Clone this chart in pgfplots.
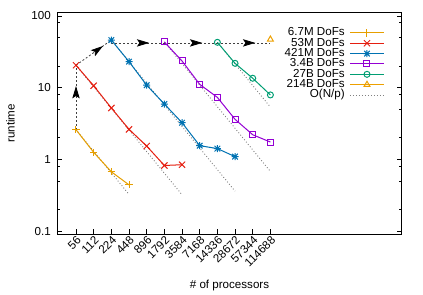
\documentclass[border=0pt]{standalone}
\usepackage{fontspec}
\setmainfont{Liberation Sans}
\usepackage{pgfplots}
\pgfplotsset{compat=1.18}
\usetikzlibrary{arrows.meta,decorations.markings}
\definecolor{cOr}{HTML}{E69F00}
\definecolor{cRe}{HTML}{E51E10}
\definecolor{cBl}{HTML}{0072B2}
\definecolor{cPu}{HTML}{9400D3}
\definecolor{cGr}{HTML}{009E73}
\definecolor{cYe}{HTML}{EDA000}
\pgfdeclareplotmark{plusx}{%
  \pgfpathmoveto{\pgfqpoint{-\pgfplotmarksize}{0pt}}\pgfpathlineto{\pgfqpoint{\pgfplotmarksize}{0pt}}%
  \pgfpathmoveto{\pgfqpoint{0pt}{-\pgfplotmarksize}}\pgfpathlineto{\pgfqpoint{0pt}{\pgfplotmarksize}}%
  \pgfpathmoveto{\pgfqpoint{-.8\pgfplotmarksize}{-.8\pgfplotmarksize}}\pgfpathlineto{\pgfqpoint{.8\pgfplotmarksize}{.8\pgfplotmarksize}}%
  \pgfpathmoveto{\pgfqpoint{-.8\pgfplotmarksize}{.8\pgfplotmarksize}}\pgfpathlineto{\pgfqpoint{.8\pgfplotmarksize}{-.8\pgfplotmarksize}}%
  \pgfusepathqstroke}
\tikzset{
  midarrow/.style={postaction={decorate},
    decoration={markings, mark=at position 0.5 with {\fill[black,solid] (0bp,-3bp) -- (10bp,0bp) -- (0bp,3bp) -- (2bp,0bp) -- cycle;}}},
}
\begin{document}
\begin{tikzpicture}[font=\fontsize{11.6bp}{13bp}\selectfont]
\begin{axis}[
  scale only axis, width=344.4bp, height=221.8bp,
  ymode=log, ymin=0.09, ymax=111.5,
  xmin=-1.058, xmax=18.43,
  xtick={0,...,11},
  xticklabels={56,112,224,448,896,1792,3584,7168,14336,28672,57344,114688},
  ytick={0.1,1,10,100}, yticklabels={0.1,1,10,100},
  minor ytick={0.2,0.5,0.8,2,5,8,20,50,80},
  /pgf/number format/assume math mode=true,
  tick align=inside, xtick pos=bottom, ytick pos=both,
  major tick length=5bp, minor tick length=3bp,
  every tick/.style={black, line width=0.7bp},
  axis line style={black, line width=1.2bp},
  xticklabel style={anchor=north east, rotate=45, inner sep=0.5bp},
  yticklabel style={xshift=-3bp},
  xlabel={\# of processors}, ylabel={runtime},
  every axis x label/.style={at={(axis description cs:0.5,-0.2331)}, anchor=center},
  every axis y label/.style={at={(axis description cs:-0.1359,0.5)}, rotate=90, anchor=center},
  legend style={draw=none, fill=none, at={(axis description cs:0.9593,0.9446)}, anchor=north east,
    nodes={inner sep=0.8bp, text height=8bp, text depth=2.3bp}, row sep=-1.55bp, column sep=4bp},
  legend cell align=right,
  legend plot pos=right,
  legend image code/.code={\draw[mark repeat=2,mark phase=2] plot coordinates {(0bp,0bp) (17bp,0bp) (34bp,0bp)};},
  clip=false,
]
% ideal O(N/p) lines
\addplot[forget plot, gray, line width=0.9bp, dash pattern=on 0.9bp off 2.1bp] coordinates {(0,2.59) (3,0.324)};
\addplot[forget plot, gray, line width=0.9bp, dash pattern=on 0.9bp off 2.1bp] coordinates {(0,20.5) (6,0.320)};
\addplot[forget plot, gray, line width=0.9bp, dash pattern=on 0.9bp off 2.1bp] coordinates {(2,46) (9,0.359)};
\addplot[forget plot, gray, line width=0.9bp, dash pattern=on 0.9bp off 2.1bp] coordinates {(5,43.3) (11,0.677)};
\addplot[forget plot, gray, line width=0.9bp, dash pattern=on 0.9bp off 2.1bp] coordinates {(8,42.8) (11,5.35)};
% weak scaling arrows
\addplot[forget plot, black!75, line width=0.8bp, dash pattern=on 2bp off 2bp, midarrow] coordinates {(0,2.59) (0,20.5)};
\addplot[forget plot, black!75, line width=0.8bp, dash pattern=on 2bp off 2bp, midarrow] coordinates {(0,20.5) (2,46)};
\addplot[forget plot, black!75, line width=0.8bp, dash pattern=on 2bp off 2bp, midarrow] coordinates {(2,42) (5,42)};
\addplot[forget plot, black!75, line width=0.8bp, dash pattern=on 2bp off 2bp, midarrow] coordinates {(5,42) (8,42)};
\addplot[forget plot, black!75, line width=0.8bp, dash pattern=on 2bp off 2bp, midarrow] coordinates {(8,42) (11,42)};
% data
\addplot[cOr, line width=1bp, mark=+, mark size=3.6bp] coordinates {(0,2.59) (1,1.25) (2,0.67) (3,0.44)};
\addlegendentry{6.7M DoFs}
\addplot[cRe, line width=1bp, mark=x, mark size=4.4bp] coordinates {(0,20.5) (1,10.6) (2,5.2) (3,2.62) (4,1.53) (5,0.82) (6,0.84)};
\addlegendentry{53M DoFs}
\addplot[cBl, line width=1bp, mark=plusx, mark size=3.5bp] coordinates {(2,46) (3,23) (4,10.8) (5,5.9) (6,3.24) (7,1.55) (8,1.41) (9,1.09)};
\addlegendentry{421M DoFs}
\addplot[cPu, line width=1bp, mark=square, mark size=3bp] coordinates {(5,43.3) (6,23.5) (7,11.1) (8,7.3) (9,3.61) (10,2.2) (11,1.74)};
\addlegendentry{3.4B DoFs}
\addplot[cGr, line width=1bp, mark=o, mark size=3bp] coordinates {(8,42.8) (9,21.8) (10,13.5) (11,7.9)};
\addlegendentry{27B DoFs}
\addplot[cYe, line width=1bp, mark=triangle, mark size=3.4bp] coordinates {(11,47)};
\addlegendentry{214B DoFs}
\addlegendimage{gray, line width=0.9bp, dash pattern=on 0.9bp off 2.1bp}
\addlegendentry{O(N/p)}
\end{axis}
\path ([shift={(-57.3bp,-60.7bp)}]current axis.south west) rectangle ([shift={(21.3bp,12.5bp)}]current axis.north east);
\end{tikzpicture}
\end{document}
